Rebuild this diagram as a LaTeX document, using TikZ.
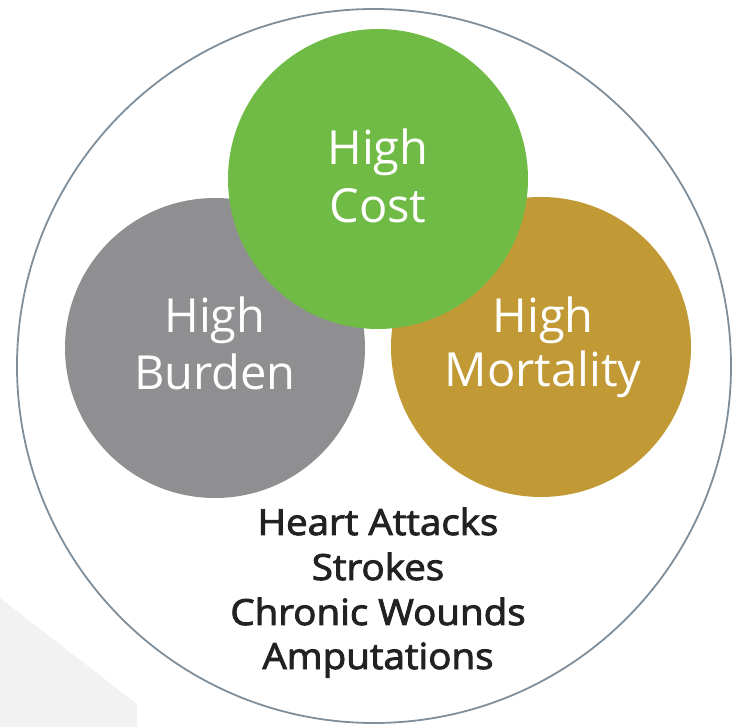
\documentclass[tikz,border=0pt]{standalone}
\usepackage{fontspec}
\setmainfont{Open Sans}
\newcommand{\heavytext}{\special{pdf:literal direct 2 Tr 0.9 w}}
\definecolor{costgreen}{HTML}{70BB45}
\definecolor{burdengray}{HTML}{8F8F91}
\definecolor{mortgold}{HTML}{C19A36}
\definecolor{ringline}{HTML}{7E8E9A}
\definecolor{textdark}{HTML}{222222}
\definecolor{shadegray}{HTML}{F2F2F2}
\tikzset{
  bigdisc/.style={circle, minimum size=300pt, inner sep=0pt, draw=none},
  whitelabel/.style={anchor=base, text=white, inner sep=0pt, font=\fontsize{47}{56}\selectfont},
  darklabel/.style={anchor=base, text=textdark, inner sep=0pt, font=\fontsize{36}{44}\selectfont\addfontfeature{FakeStretch=1.07}\heavytext},
}
\begin{document}
\begin{tikzpicture}[x=1pt,y=-1pt]
\useasboundingbox (0,0) rectangle (732,727);
% faint background shape, bottom left
\fill[shadegray] (0,598) -- (137,704) -- (137,727) -- (0,727) -- cycle;
% outer ring
\node[circle, minimum size=714pt, inner sep=0pt, draw=ringline, line width=1.8pt] (ring) at (374,366) {};
% discs
\node[bigdisc, fill=burdengray] (burden) at (215,348) {};
\node[bigdisc, fill=mortgold] (mortality) at (541,347) {};
\node[bigdisc, fill=costgreen] (cost) at (378,179) {};
% labels
\node[whitelabel] (costA) at (378,165) {High};
\node[whitelabel] (costB) at (378,223) {Cost};
\node[whitelabel] (burdenA) at (215,333) {High};
\node[whitelabel] (burdenB) at (215,390) {Burden};
\node[whitelabel] (mortA) at (543,333) {High};
\node[whitelabel] (mortB) at (543,387) {Mortality};
\node[darklabel] (l1) at (378,535) {Heart Attacks};
\node[darklabel] (l2) at (378,580) {Strokes};
\node[darklabel] (l3) at (378,625) {Chronic Wounds};
\node[darklabel] (l4) at (378,669) {Amputations};
\end{tikzpicture}
\end{document}
